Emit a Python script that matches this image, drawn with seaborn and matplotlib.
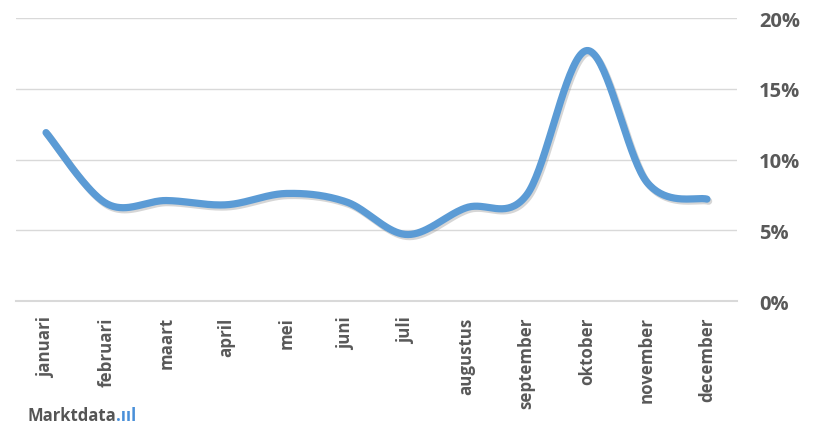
import numpy as np
import pandas as pd
import seaborn as sns
import matplotlib.pyplot as plt
import matplotlib.patheffects as pe

months = ["januari", "februari", "maart", "april", "mei", "juni",
          "juli", "augustus", "september", "oktober", "november", "december"]
share = [11.9, 6.9, 7.1, 6.8, 7.6, 7.0, 4.7, 6.6, 7.5, 17.7, 8.4, 7.2]
yticks = [0, 5, 10, 15, 20]


def smooth(y, n=40):
    # Excel-style smoothed line (Catmull-Rom bezier)
    p = np.array(y, dtype=float)
    x = np.arange(len(p), dtype=float)
    pts = np.column_stack([x, p])
    ext = np.vstack([pts[0], pts, pts[-1]])
    out = []
    t = np.linspace(0, 1, n)[:, None]
    for i in range(len(pts) - 1):
        p0, p1, p2, p3 = ext[i], ext[i + 1], ext[i + 2], ext[i + 3]
        c1 = p1 + (p2 - p0) / 6
        c2 = p2 - (p3 - p1) / 6
        seg = ((1 - t) ** 3) * p1 + 3 * ((1 - t) ** 2) * t * c1 + 3 * (1 - t) * t ** 2 * c2 + t ** 3 * p2
        out.append(seg if i == 0 else seg[1:])
    out = np.vstack(out)
    return pd.DataFrame({"x": out[:, 0], "y": out[:, 1]})


sns.set_style("white")
plt.rcParams['font.family'] = ['Open Sans', 'DejaVu Sans']

fig = plt.figure(figsize=(8.13, 4.31), dpi=100)
ax = fig.add_axes([16 / 813, 1 - 302 / 431, 721 / 813, 283 / 431])

df = smooth(share)
sns.lineplot(data=df, x="x", y="y", ax=ax, color="#5B9BD5", linewidth=5.2,
             solid_capstyle="round", sort=False,
             path_effects=[pe.SimpleLineShadow(offset=(1.2, -1.5), shadow_color="#8a8a8a", alpha=0.35),
                           pe.Normal()])

ax.set_xlim(-0.5, 11.5)
ax.set_ylim(0, 20)
ax.set_yticks(yticks)
ax.set_yticklabels([f"{v}%" for v in yticks])
ax.yaxis.tick_right()
ax.set_xticks(range(len(months)))
ax.set_xticklabels(months, rotation=90)
ax.set_xlabel("")
ax.set_ylabel("")
ax.grid(axis="y", color="#D9D9D9", linewidth=1)
ax.set_axisbelow(True)
for s in ["top", "left", "right"]:
    ax.spines[s].set_visible(False)
ax.spines["bottom"].set_color("#D9D9D9")
ax.spines["bottom"].set_linewidth(1.5)
ax.tick_params(axis="both", length=0, labelcolor="#595959")
ax.tick_params(axis="y", pad=16, labelsize=14.5)
ax.tick_params(axis="x", pad=11, labelsize=12.2)
for lab in ax.get_xticklabels() + ax.get_yticklabels():
    lab.set_fontweight("bold")

logo = fig.text(27 / 813, 1 - 416 / 431, "Marktdata", fontsize=12, fontweight="bold",
                color="#555555", va="center", ha="left")
fig.canvas.draw()
bb = logo.get_window_extent().transformed(fig.transFigure.inverted())
fig.text(bb.x1, 1 - 416 / 431, ".\u0131\u0131l", fontsize=12, fontweight="bold",
         color="#4A90D9", va="center", ha="left")

fig.savefig("out.png", dpi=100)
